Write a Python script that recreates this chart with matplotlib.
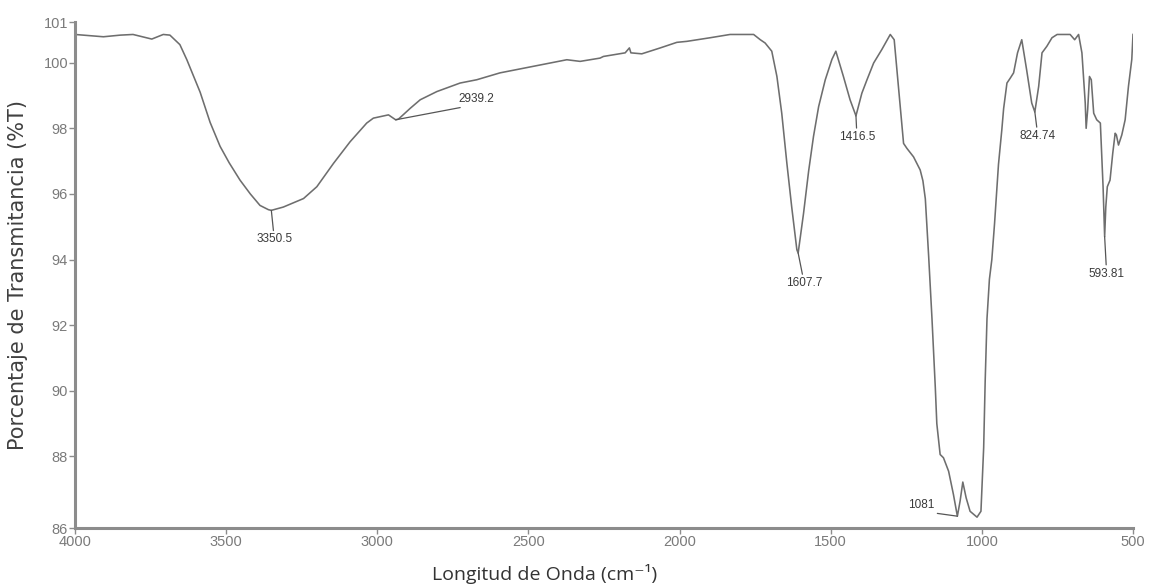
import numpy as np
import matplotlib
matplotlib.use("Agg")
import matplotlib.pyplot as plt

# wavenumber (cm-1) and transmittance (%T)
wavenumber = [4000, 3906, 3850, 3808, 3746, 3708, 3686, 3653, 3630, 3586,
              3553, 3520, 3490, 3454, 3420, 3388, 3360, 3350.5, 3311, 3244,
              3200, 3145, 3090, 3035, 3013, 2963, 2947, 2939.2, 2930, 2891,
              2858, 2803, 2726, 2671, 2594, 2484, 2373, 2329, 2263, 2252,
              2180, 2166, 2161, 2125, 2064, 2009, 1976, 1899, 1833, 1766,
              1755, 1733, 1717, 1695, 1678, 1662, 1645, 1629, 1612, 1607.7,
              1590, 1573, 1557, 1540, 1518, 1496, 1483, 1458, 1436, 1416.5,
              1397, 1380, 1358, 1331, 1303, 1290, 1281, 1270, 1259, 1248,
              1226, 1204, 1195, 1187, 1176, 1165, 1154, 1149, 1138, 1127,
              1110, 1094, 1081, 1072, 1063, 1052, 1039, 1016, 1003, 994,
              989, 983, 975, 967, 958, 945, 934, 928, 917, 906,
              895, 882, 868, 852, 835, 824.74, 812, 801, 785, 768,
              751, 708, 693, 680, 669, 658, 655, 650, 644, 638,
              630, 620, 608, 599, 596, 593.81, 590, 585, 576, 567,
              559, 555, 548, 537, 526, 515, 504, 500]
transmittance = [100.86, 100.79, 100.84, 100.86, 100.72, 100.86, 100.84, 100.55, 100.09, 99.10,
                 98.18, 97.45, 96.95, 96.42, 96.00, 95.65, 95.52, 95.50, 95.60, 95.86,
                 96.22, 96.93, 97.59, 98.16, 98.31, 98.41, 98.31, 98.26, 98.28, 98.61,
                 98.87, 99.12, 99.38, 99.48, 99.69, 99.89, 100.09, 100.04, 100.14, 100.19,
                 100.30, 100.45, 100.30, 100.27, 100.45, 100.62, 100.65, 100.76, 100.86, 100.86,
                 100.86, 100.70, 100.60, 100.35, 99.58, 98.46, 96.93, 95.60, 94.30, 94.20,
                 95.40, 96.70, 97.75, 98.66, 99.48, 100.10, 100.35, 99.58, 98.87, 98.38,
                 99.07, 99.48, 99.99, 100.40, 100.86, 100.70, 99.79, 98.66, 97.54, 97.39,
                 97.13, 96.73, 96.40, 95.85, 94.10, 92.20, 90.10, 89.00, 88.06, 87.96,
                 87.55, 86.84, 86.18, 86.64, 87.22, 86.74, 86.33, 86.15, 86.33, 88.27,
                 90.30, 92.20, 93.40, 94.00, 95.10, 96.90, 97.95, 98.60, 99.38, 99.53,
                 99.69, 100.30, 100.70, 99.79, 98.77, 98.50, 99.28, 100.30, 100.50, 100.76,
                 100.86, 100.86, 100.70, 100.86, 100.30, 98.77, 98.00, 98.56, 99.58, 99.48,
                 98.46, 98.26, 98.16, 96.22, 95.30, 94.70, 95.60, 96.22, 96.42, 97.24,
                 97.85, 97.80, 97.49, 97.80, 98.26, 99.28, 100.10, 100.86]

# labelled peaks
peak_labels = ["3350.5", "2939.2", "1607.7", "1416.5", "1081", "824.74", "593.81"]
peak_wn = [3350.5, 2939.2, 1607.7, 1416.5, 1081, 824.74, 593.81]
peak_T = [95.50, 98.26, 94.20, 98.38, 86.18, 98.50, 94.70]

x_ticks = [4000, 3500, 3000, 2500, 2000, 1500, 1000, 500]
# axis limits are labelled (rounded) like the instrument software does
y_min, y_max = 85.82, 101.24
y_ticks = [y_min, 88, 90, 92, 94, 96, 98, 100, y_max]
y_tick_labels = ["86", "88", "90", "92", "94", "96", "98", "100", "101"]

fig = plt.figure(figsize=(11.5, 5.86), dpi=100)
ax = fig.add_axes([75 / 1150, 58 / 586, 1058 / 1150, 506 / 586])

ax.plot(wavenumber, transmittance, color="#6e6e6e", lw=1.15)
ax.set_xlim(4000, 500)
ax.set_ylim(y_min, y_max)

# peak labels with leader lines (text offset in pixels from the peak)
offsets = [(3, -29), (81, 21), (6, -30), (1, -21), (-36, 11), (3, -24), (2, -37)]
relpos = [(0.5, 0.5), (0.45, 0), (0.5, 0.5), (0.5, 0.5), (0.5, 0), (0.5, 0.5), (0.5, 0.5)]
for lab, xw, yt, off, rp in zip(peak_labels, peak_wn, peak_T, offsets, relpos):
    ax.annotate(lab, xy=(xw, yt), xytext=off, textcoords="offset pixels",
                ha="center", va="center", fontsize=8.5, color="#3a3a3a",
                family="Liberation Sans",
                arrowprops=dict(arrowstyle="-", color="#555555", lw=0.9,
                                shrinkA=0, shrinkB=0, relpos=rp))

for s in ["top", "right"]:
    ax.spines[s].set_visible(False)
for s in ["left", "bottom"]:
    ax.spines[s].set_color("#8c8c8c")
    ax.spines[s].set_linewidth(2.2)

ax.set_xticks(x_ticks)
ax.set_xticklabels([str(v) for v in x_ticks])
ax.set_yticks(y_ticks)
ax.set_yticklabels(y_tick_labels)
ax.tick_params(axis="both", direction="out", length=4, width=1, color="#8c8c8c",
               labelcolor="#7a7a7a", labelsize=10.5, pad=1)
for t in ax.get_xticklabels() + ax.get_yticklabels():
    t.set_family("Liberation Sans")

fig.text(18 / 1150, 1 - 275 / 586, "Porcentaje de Transmitancia (%T)", rotation=90,
         ha="center", va="center", fontsize=15, color="#404040", family="DejaVu Sans")
fig.text(545 / 1150, 1 - 574 / 586, "Longitud de Onda (cm⁻¹)", ha="center", va="center",
         fontsize=14, color="#333333", family=["Open Sans", "DejaVu Sans"])

fig.savefig("out.png", dpi=100, facecolor="white")
